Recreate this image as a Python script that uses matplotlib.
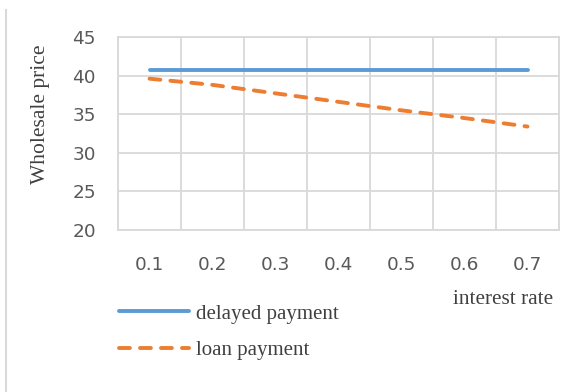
import matplotlib.pyplot as plt
from matplotlib.lines import Line2D

rates = ["0.1", "0.2", "0.3", "0.4", "0.5", "0.6", "0.7"]
delayed = [40.7, 40.7, 40.7, 40.7, 40.7, 40.7, 40.7]
loan = [39.6, 38.8, 37.7, 36.6, 35.5, 34.5, 33.4]

W, H = 582, 392
fig = plt.figure(figsize=(W / 100, H / 100), dpi=100)
ax = fig.add_axes([118 / W, 1 - 230 / H, (559 - 118) / W, (230 - 37) / H])

x = list(range(len(rates)))
ax.plot(x, delayed, color="#5B9BD5", lw=2.8, solid_capstyle="round",
        label="delayed payment")
ax.plot(x, loan, color="#ED7D31", lw=2.8, ls=(0, (2.8, 2.6)),
        dash_capstyle="round", label="loan payment")

ax.set_xlim(-0.5, len(rates) - 0.5)
ax.set_ylim(20, 45)
ax.set_yticks(range(20, 46, 5))
ax.set_xticks(x)
ax.set_xticklabels(rates)
# vertical grid between categories
ax.set_xticks([i - 0.5 for i in range(len(rates) + 1)], minor=True)
ax.grid(True, which="minor", axis="x", color="#D9D9D9", lw=1.3)
ax.grid(True, which="major", axis="y", color="#D9D9D9", lw=1.3)
ax.tick_params(which="both", length=0)
ax.tick_params(axis="x", pad=19)
ax.tick_params(axis="y", pad=16)
for lab in ax.get_xticklabels() + ax.get_yticklabels():
    lab.set_fontsize(13.3)
    lab.set_color("#595959")
for s in ax.spines.values():
    s.set_color("#D9D9D9")
    s.set_linewidth(1.3)

serif = "Liberation Serif"
fig.text(40 / W, 1 - 114 / H, "Wholesale price", family=serif, fontsize=15.5,
         color="#404040", rotation=90, ha="center", va="center")
fig.text(503 / W, 1 - 304 / H, "interest rate", family=serif,
         fontsize=15.3, color="#404040", ha="center", va="baseline")

leg = fig.legend(loc="upper left", bbox_to_anchor=(119 / W, 1 - 304 / H),
                 frameon=False, handlelength=3.36, handletextpad=0.34,
                 labelspacing=0.8, borderpad=0, borderaxespad=0,
                 prop={"family": serif, "size": 15})
for t in leg.get_texts():
    t.set_color("#404040")

fig.add_artist(Line2D([6 / W, 6 / W], [0, 1 - 10 / H], color="#D9D9D9", lw=1.5))

fig.savefig("out.png", dpi=100)
